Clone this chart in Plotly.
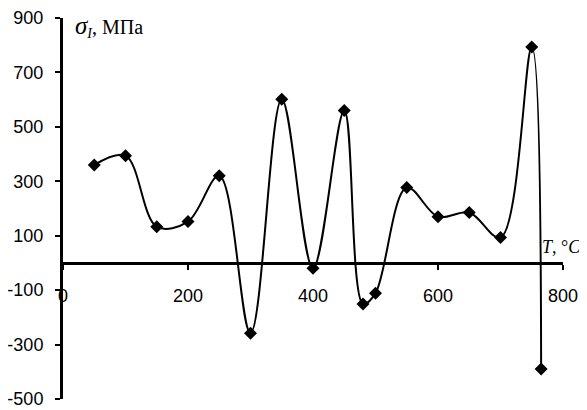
import plotly.graph_objects as go

T = [50, 100, 150, 200, 250, 300, 350, 400, 450, 480, 500, 550, 600, 650, 700, 750, 765]
sigma = [360, 394, 133, 152, 320, -258, 601, -20, 560, -151, -111, 277, 170, 185, 93, 793, -390]

x_ticks = [0, 200, 400, 600, 800]
y_ticks = [-500, -300, -100, 100, 300, 500, 700, 900]

y_min, y_max = -500, 900

fig = go.Figure()
fig.add_trace(go.Scatter(
    x=T, y=sigma, mode="lines+markers",
    line=dict(color="black", width=2, shape="spline", smoothing=1),
    marker=dict(symbol="diamond", size=10, color="black"),
    cliponaxis=False,
))

fig.update_layout(
    width=587, height=410,
    margin=dict(l=55, r=32, t=10, b=19),
    paper_bgcolor="white", plot_bgcolor="white",
    showlegend=False,
    font=dict(family="Arial, Liberation Sans", size=18, color="black"),
    xaxis=dict(
        range=[0, 800], tickvals=x_ticks, ticktext=[str(v) for v in x_ticks],
        showline=True, linecolor="black", linewidth=3,
        ticks="outside", ticklen=5, tickwidth=2, tickcolor="black",
        showgrid=False, zeroline=False, automargin=False,
        anchor="free", position=(0 - y_min) / (y_max - y_min),
        ticklabelstandoff=10,
    ),
    yaxis=dict(
        range=[y_min, y_max], tickvals=y_ticks, ticktext=[str(v) for v in y_ticks],
        showline=True, linecolor="black", linewidth=3,
        ticks="outside", ticklen=5, tickwidth=2, tickcolor="black",
        showgrid=False, zeroline=False, automargin=False,
        ticklabelstandoff=8,
    ),
    annotations=[
        dict(x=16, y=867, xref="x", yref="y", xanchor="left", yanchor="middle",
             text="<i><span style='font-size:25px'>σ</span><sub>I</sub></i>, МПа", showarrow=False,
             font=dict(family="Times New Roman, Liberation Serif", size=20, color="black")),
        dict(x=763, y=60, xref="x", yref="y", xanchor="left", yanchor="middle",
             text="<i>T</i>, °<i>C</i>", showarrow=False,
             font=dict(family="Times New Roman, Liberation Serif", size=18, color="black")),
    ],
)

fig.write_html("out.html")
